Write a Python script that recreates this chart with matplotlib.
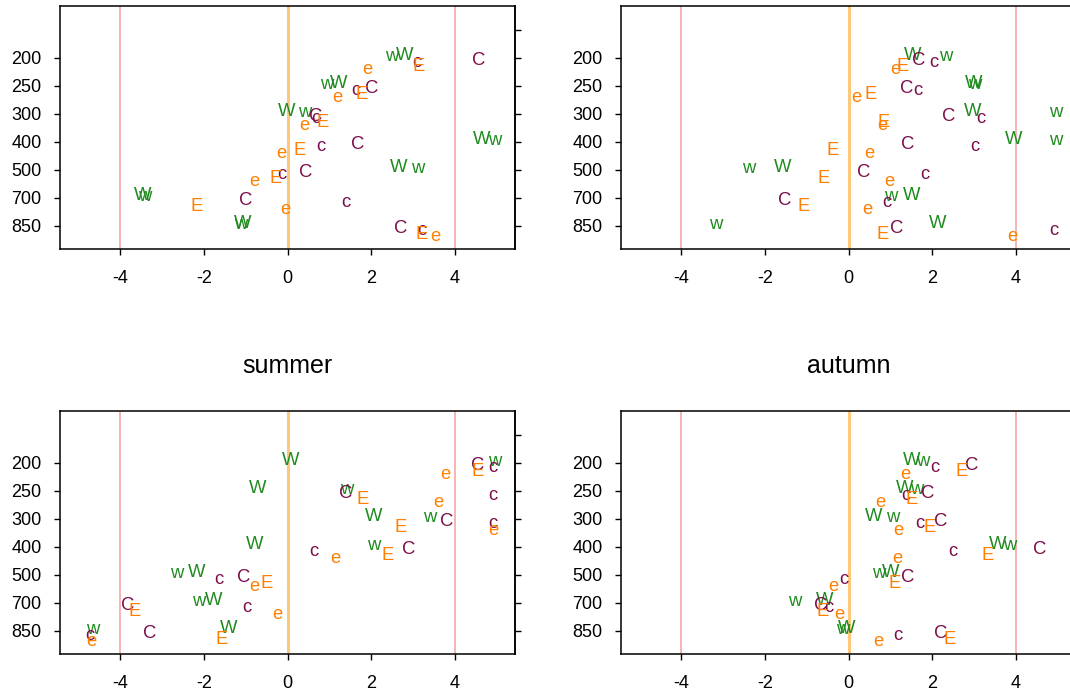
import matplotlib
matplotlib.use('Agg')
import matplotlib.pyplot as plt

plt.rcParams['font.family'] = ['Liberation Sans', 'DejaVu Sans']
plt.rcParams['axes.unicode_minus'] = False

# pressure levels (top to bottom)
levels = [200, 250, 300, 400, 500, 700, 850]
xticks = [-4, -2, 0, 2, 4]

# x value of every letter, one per level, in the order of `levels`
tl_W = [2.79, 1.22, -0.02, 4.63, 2.65, -3.45, -1.06]
tl_w = [2.49, 0.94, 0.40, 4.95, 3.10, -3.40, -1.12]
tl_C = [4.56, 2.02, 0.68, 1.67, 0.43, -1.00, 2.69]
tl_c = [3.09, 1.63, 0.67, 0.79, -0.14, 1.40, 3.21]
tl_E = [3.14, 1.78, 0.85, 0.29, -0.29, -2.17, 3.21]
tl_e = [1.91, 1.18, 0.40, -0.14, -0.78, -0.05, 3.52]

tr_W = [1.52, 2.98, 2.97, 3.94, -1.56, 1.50, 2.13]
tr_w = [2.32, 3.01, 4.95, 4.95, -2.39, 1.00, -3.17]
tr_C = [1.68, 1.38, 2.40, 1.42, 0.37, -1.52, 1.14]
tr_c = [2.04, 1.66, 3.15, 3.02, 1.82, 0.92, 4.91]
tr_E = [1.30, 0.53, 0.85, -0.39, -0.59, -1.06, 0.81]
tr_e = [1.13, 0.19, 0.80, 0.51, 0.98, 0.45, 3.90]

summer_W = [0.07, -0.72, 2.06, -0.78, -2.17, -1.77, -1.41]
summer_w = [4.95, 1.42, 3.39, 2.06, -2.64, -2.13, -4.65]
summer_C = [4.54, 1.40, 3.79, 2.89, -1.04, -3.82, -3.30]
summer_c = [4.91, 4.91, 4.91, 0.63, -1.63, -0.98, -4.71]
summer_E = [4.54, 1.79, 2.71, 2.39, -0.51, -3.66, -1.58]
summer_e = [3.78, 3.60, 4.91, 1.14, -0.79, -0.25, -4.69]

autumn_W = [1.50, 1.34, 0.60, 3.56, 1.01, -0.56, -0.05]
autumn_w = [1.76, 1.64, 1.06, 3.84, 0.72, -1.28, -0.13]
autumn_C = [2.95, 1.88, 2.19, 4.57, 1.42, -0.67, 2.20]
autumn_c = [2.06, 1.38, 1.70, 2.48, -0.11, -0.47, 1.18]
autumn_E = [2.71, 1.50, 1.94, 3.33, 1.10, -0.62, 2.41]
autumn_e = [1.36, 0.77, 1.18, 1.17, -0.35, -0.21, 0.72]

panels = [
    ('', {'W': tl_W, 'w': tl_w, 'C': tl_C, 'c': tl_c, 'E': tl_E, 'e': tl_e}),
    ('', {'W': tr_W, 'w': tr_w, 'C': tr_C, 'c': tr_c, 'E': tr_E, 'e': tr_e}),
    ('summer', {'W': summer_W, 'w': summer_w, 'C': summer_C, 'c': summer_c, 'E': summer_E, 'e': summer_e}),
    ('autumn', {'W': autumn_W, 'w': autumn_w, 'C': autumn_C, 'c': autumn_c, 'E': autumn_E, 'e': autumn_e}),
]

purple, orange, green = '#7B0E4A', '#FF8000', '#1F8B1F'
colors = {'C': purple, 'c': purple, 'E': orange, 'e': orange, 'W': green, 'w': green}
# small vertical shift of each letter below its level (baseline anchor)
drop = {'W': 0.080, 'w': 0.108, 'C': 0.262, 'c': 0.322, 'E': 0.477, 'e': 0.562}

fig = plt.figure(figsize=(10.7, 6.94), dpi=100)
FW, FH = 1070, 694
corners = [(60, 6), (621, 6), (60, 411), (621, 411)]

for (px, py), (title, data) in zip(corners, panels):
    ax = fig.add_axes([px / FW, 1 - (py + 243) / FH, 455 / FW, 243 / FH])
    for v in (-4, 4):
        ax.axvline(v, color='#F4A0A0', lw=1.1, zorder=1)
    ax.axvline(0, color='#FFC878', lw=2.2, zorder=1)

    for letter, xs in data.items():
        for i, x in enumerate(xs):
            ax.text(x, i + drop[letter], letter, ha='center', va='baseline',
                    color=colors[letter], fontsize=13.3, zorder=3)

    ax.set_xlim(-5.43, 5.43)
    ax.set_ylim(6.83, -1.85)
    ax.set_xticks(xticks)
    ax.set_xticklabels([str(t) for t in xticks])
    ax.set_yticks(range(len(levels)))
    ax.set_yticklabels([str(l) for l in levels])
    ax.tick_params(direction='out', length=4.3, width=1.0, labelsize=13, pad=9)
    ax.tick_params(axis='x', pad=10.5)
    for s in ax.spines.values():
        s.set_linewidth(1.1)

    sec = ax.secondary_yaxis('right')
    sec.set_yticks(range(-1, len(levels)))
    sec.set_yticklabels([])
    sec.tick_params(direction='out', length=4.3, width=1.0)
    sec.spines['right'].set_linewidth(1.1)

    if title:
        ax.set_title(title, fontsize=18, pad=27.7)

fig.savefig('out.png', dpi=100)
